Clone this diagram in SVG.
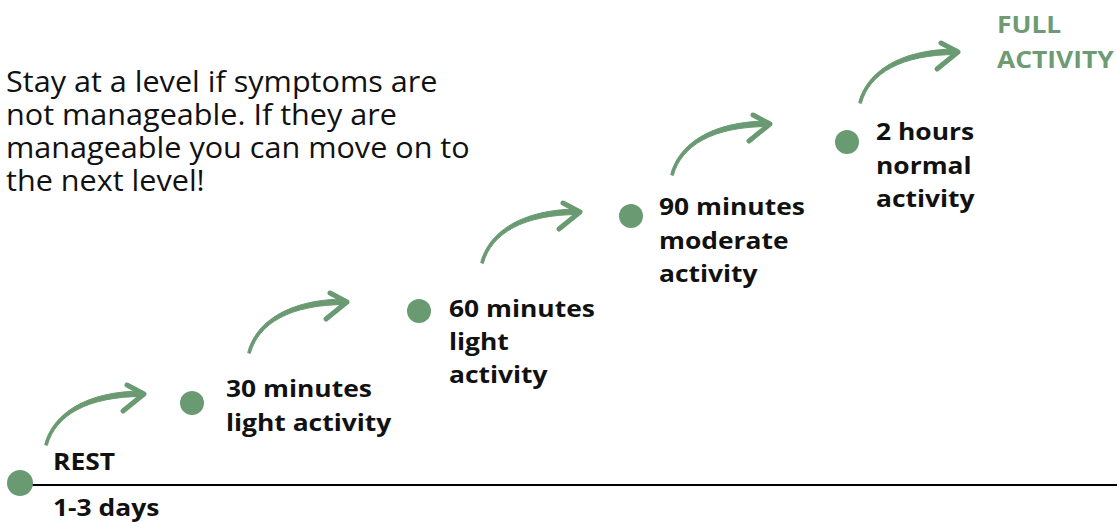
<svg xmlns="http://www.w3.org/2000/svg" width="1117" height="522" viewBox="0 0 1117 522">
<style>
.dot{fill:#6a9a72}
.lbl{font-family:"Open Sans","Noto Sans",sans-serif;font-weight:bold;font-size:24px;fill:#111}
.full{font-family:"Open Sans","Noto Sans",sans-serif;font-weight:bold;font-size:24px;fill:#6e9b74}
.note{font-family:"Open Sans","Noto Sans",sans-serif;font-size:29px;fill:#111}
.shaft{fill:#6a9a72;stroke:#6a9a72;stroke-width:1;stroke-linejoin:round}
.head{fill:none;stroke:#6a9a72;stroke-width:5;stroke-linecap:round;stroke-linejoin:round}
</style>
<defs>
<g id="arrow">
<path class="shaft" d="M-1.3,-0.4 C6.5,-30.5 39,-54 97,-54 L97,-48.5 C41,-48.5 9.5,-29.5 1.3,0.4 Z"/>
<path class="head" d="M81,-60 L98,-51 L77,-34"/>
</g>
</defs>
<rect width="1117" height="522" fill="#fff"/>
<g id="note" transform="translate(6,0) scale(1.055,1)">
<text class="note" x="0" y="92">Stay at a level if symptoms are</text>
<text class="note" x="0" y="125">not manageable. If they are</text>
<text class="note" x="0" y="158">manageable you can move on to</text>
<text class="note" x="0" y="191">the next level!</text>
</g>
<g id="connectors">
<line x1="22" y1="485" x2="1117" y2="485" stroke="#000" stroke-width="2"/>
<use href="#arrow" transform="translate(46,445)"/>
<use href="#arrow" transform="translate(249,353)"/>
<use href="#arrow" transform="translate(482,263)"/>
<use href="#arrow" transform="translate(672,175)"/>
<use href="#arrow" transform="translate(860,103)"/>
</g>
<g id="node-rest">
<circle class="dot" cx="20" cy="483" r="13"/>
<g transform="translate(53,0) scale(1.1,1)">
<text class="lbl" x="0" y="470">REST</text>
<text class="lbl" x="0" y="516">1-3 days</text>
</g>
</g>
<g id="node-30">
<circle class="dot" cx="192" cy="403" r="12"/>
<g transform="translate(226,0) scale(1.1,1)">
<text class="lbl" x="0" y="397">30 minutes</text>
<text class="lbl" x="0" y="431">light activity</text>
</g>
</g>
<g id="node-60">
<circle class="dot" cx="419" cy="311" r="12"/>
<g transform="translate(449,0) scale(1.1,1)">
<text class="lbl" x="0" y="317">60 minutes</text>
<text class="lbl" x="0" y="350">light</text>
<text class="lbl" x="0" y="383">activity</text>
</g>
</g>
<g id="node-90">
<circle class="dot" cx="631" cy="216" r="12"/>
<g transform="translate(659,0) scale(1.1,1)">
<text class="lbl" x="0" y="215">90 minutes</text>
<text class="lbl" x="0" y="249">moderate</text>
<text class="lbl" x="0" y="282">activity</text>
</g>
</g>
<g id="node-2h">
<circle class="dot" cx="847" cy="142" r="12"/>
<g transform="translate(876,0) scale(1.1,1)">
<text class="lbl" x="0" y="140">2 hours</text>
<text class="lbl" x="0" y="174">normal</text>
<text class="lbl" x="0" y="207">activity</text>
</g>
</g>
<g id="node-full" transform="translate(997,0) scale(1.1,1)">
<text class="full" x="0" y="33">FULL</text>
<text class="full" x="0" y="68">ACTIVITY</text>
</g>
</svg>
